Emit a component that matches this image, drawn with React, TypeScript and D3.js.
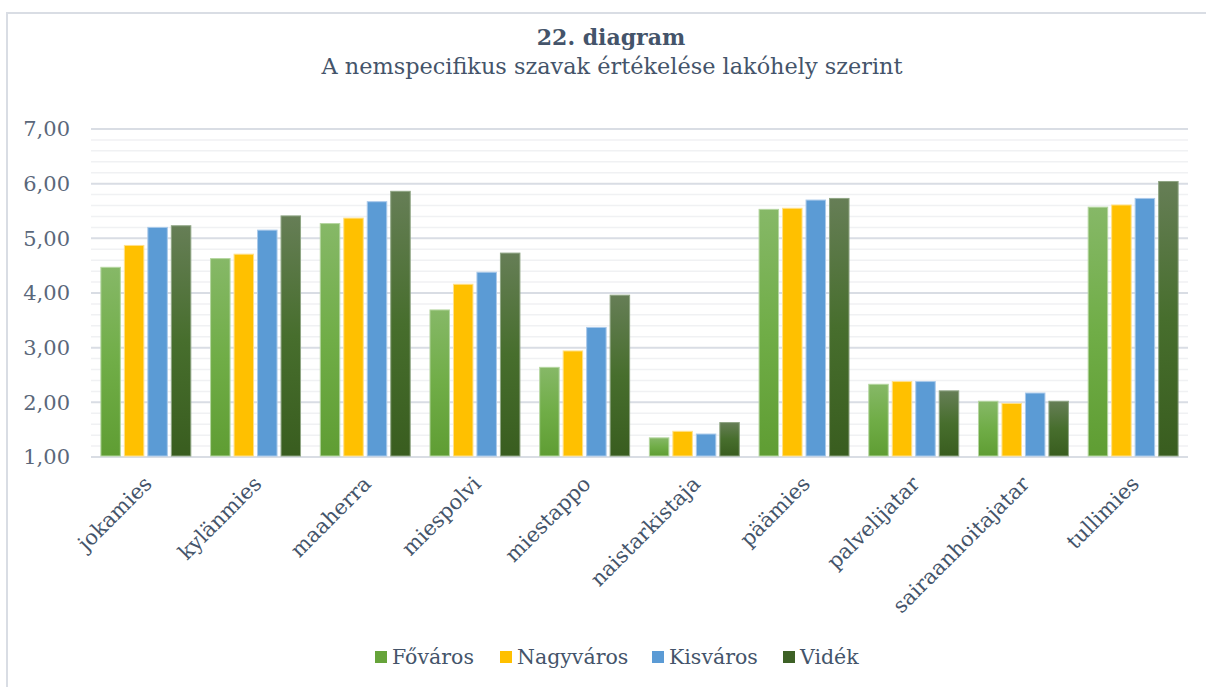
import React from "react";
import * as d3 from "d3";

const categories = ["jokamies", "kylänmies", "maaherra", "miespolvi", "miestappo", "naistarkistaja", "päämies", "palvelijatar", "sairaanhoitajatar", "tullimies"];
const seriesNames = ["Főváros", "Nagyváros", "Kisváros", "Vidék"];
const fovaros = [4.47, 4.63, 5.27, 3.69, 2.64, 1.35, 5.53, 2.33, 2.02, 5.57];
const nagyvaros = [4.87, 4.71, 5.37, 4.16, 2.94, 1.47, 5.55, 2.38, 1.98, 5.61];
const kisvaros = [5.2, 5.15, 5.67, 4.38, 3.37, 1.42, 5.7, 2.38, 2.17, 5.73];
const videk = [5.23, 5.41, 5.86, 4.73, 3.96, 1.63, 5.73, 2.21, 2.02, 6.04];
const yTicks = [1, 2, 3, 4, 5, 6, 7];

const W = 1206;
const H = 687;
const FONT = "'DejaVu Serif', serif";
const TXT = "#44546A";

const fills = ["url(#gFo)", "#FFC000", "#5B9BD5", "url(#gVi)"];
const strokes = ["#b5d6a0", "#ffe08a", "#a9c9ea", "#8fa584"];
const legendColors = ["#66a33a", "#FFC000", "#5B9BD5", "#3d6126"];

export default function App() {
  const values = [fovaros, nagyvaros, kisvaros, videk];

  const x0 = d3.scaleBand<string>().domain(categories).range([91, 1188]).paddingInner(0.18).paddingOuter(0.09);
  const x1 = d3.scaleBand<string>().domain(seriesNames).range([0, x0.bandwidth()]).paddingInner(0.17);
  const y = d3.scaleLinear().domain([1, 7]).range([457, 129]);
  const minor = d3.range(1, 7.001, 0.2).filter((v) => Math.abs(v - Math.round(v)) > 0.01);
  const fmt = (v: number) => d3.format(".2f")(v).replace(".", ",");

  // legend swatch positions
  const legendX = [375, 500, 652, 783];

  return (
    <svg width={W} height={H} style={{ position: "absolute", left: 0, top: 0, background: "#fff" }}>
      <defs>
        <linearGradient id="gFo" x1="0" y1="0" x2="0" y2="1">
          <stop offset="0" stopColor="#86b867" />
          <stop offset="0.5" stopColor="#70ad47" />
          <stop offset="1" stopColor="#5f9d33" />
        </linearGradient>
        <linearGradient id="gVi" x1="0" y1="0" x2="0" y2="1">
          <stop offset="0" stopColor="#667e56" />
          <stop offset="0.5" stopColor="#476e2d" />
          <stop offset="1" stopColor="#395d1f" />
        </linearGradient>
      </defs>

      {/* frame */}
      <path d={`M7,${H} V13 H${W}`} fill="none" stroke="#d9dde4" strokeWidth={2} />

      <text x={611} y={45} textAnchor="middle" fontFamily={FONT} fontWeight="bold" fontSize={22} fill={TXT}>22. diagram</text>
      <text x={612} y={74} textAnchor="middle" fontFamily={FONT} fontSize={22.4} fill={TXT}>A nemspecifikus szavak értékelése lakóhely szerint</text>

      {/* gridlines */}
      {minor.map((v) => (
        <line key={"m" + v} x1={91} x2={1188} y1={y(v)} y2={y(v)} stroke="#f0f1f3" strokeWidth={1.5} />
      ))}
      {yTicks.map((v) => (
        <line key={"M" + v} x1={91} x2={1188} y1={y(v)} y2={y(v)} stroke="#d9dde4" strokeWidth={2} />
      ))}
      {yTicks.map((v) => (
        <text key={"t" + v} x={70} y={y(v)} dy="0.35em" textAnchor="end" fontFamily={FONT} fontSize={21} fill="#5a677a">{fmt(v)}</text>
      ))}

      {/* bars */}
      {categories.map((c, i) => (
        <g key={c} transform={`translate(${x0(c)},0)`}>
          {seriesNames.map((s, j) => (
            <rect
              key={s}
              x={x1(s)}
              y={y(values[j][i])}
              width={x1.bandwidth()}
              height={y(1) - y(values[j][i]) - 1}
              fill={fills[j]}
              stroke={strokes[j]}
              strokeWidth={1}
            />
          ))}
        </g>
      ))}

      {/* x labels */}
      {categories.map((c) => {
        const cx = (x0(c) as number) + x0.bandwidth() / 2 + 2;
        return (
          <text key={"x" + c} transform={`translate(${cx},480) rotate(-45)`} textAnchor="end" dy="0.35em" fontFamily={FONT} fontSize={21} fill={TXT}>{c}</text>
        );
      })}

      {/* legend */}
      {seriesNames.map((s, j) => (
        <g key={"l" + s} transform={`translate(${legendX[j]},651)`}>
          <rect x={0} y={0} width={12} height={12} fill={legendColors[j]} />
          <text x={17} y={6} dy="0.35em" fontFamily={FONT} fontSize={20.5} fill={TXT}>{s}</text>
        </g>
      ))}
    </svg>
  );
}
